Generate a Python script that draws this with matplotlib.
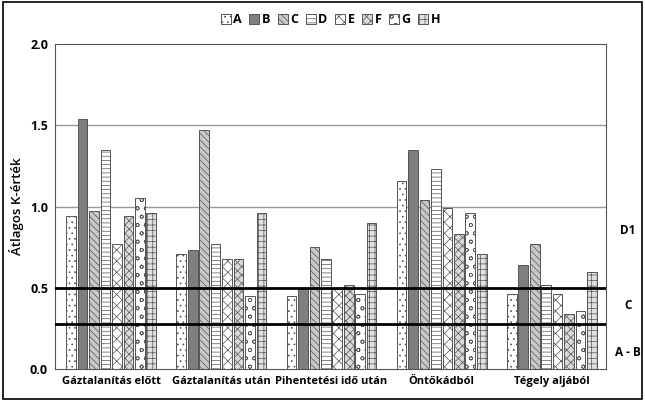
import numpy as np
import matplotlib.pyplot as plt
from matplotlib.patches import Rectangle

plt.rcParams['font.family'] = ['Open Sans', 'DejaVu Sans']
plt.rcParams['hatch.linewidth'] = 0.5
plt.rcParams['hatch.color'] = '#666666'

groups = ['Gáztalanítás előtt', 'Gáztalanítás után', 'Pihentetési idő után',
          'Öntőkádból', 'Tégely aljából']
series = ['A', 'B', 'C', 'D', 'E', 'F', 'G', 'H']
A = [0.94, 0.71, 0.45, 1.16, 0.46]
B = [1.54, 0.73, 0.50, 1.35, 0.64]
C = [0.97, 1.47, 0.75, 1.04, 0.77]
D = [1.35, 0.77, 0.68, 1.23, 0.52]
E = [0.77, 0.68, 0.49, 0.99, 0.46]
F = [0.94, 0.68, 0.52, 0.83, 0.34]
G = [1.05, 0.45, 0.46, 0.96, 0.36]
H = [0.96, 0.96, 0.90, 0.71, 0.60]
values = [A, B, C, D, E, F, G, H]

limits = [0.28, 0.5]
zone_labels = ['A - B', 'C', 'D1']
zone_pos = [0.10, 0.39, 0.85]

faces = ['white', '#7f7f7f', '#c8c8c8', 'white', 'white', '#d9d9d9', 'white', '#e0e0e0']
hatches = ['...', '', '\\\\\\\\\\', '----', 'xxx', 'xxxx', 'oo', '+++']

fig = plt.figure(figsize=(6.45, 4.01), dpi=100)
ax = fig.add_axes([0.0853, 0.0798, 0.854, 0.810])

x = np.arange(len(groups))
pitch = 0.104
w = 0.088
for i, s in enumerate(series):
    ax.bar(x + (i - 3.5) * pitch, values[i], w, color=faces[i], hatch=hatches[i],
           edgecolor='#555555', linewidth=0.7, label=s, zorder=2)

for yv in [1.0, 1.5]:
    ax.axhline(yv, color='#999999', lw=1.0, zorder=1)
for yv in limits:
    ax.axhline(yv, color='black', lw=2.0, zorder=3)

ax.set_ylim(0, 2.0)
ax.set_xlim(-0.51, 4.49)
ax.set_yticks([0, 0.5, 1.0, 1.5, 2.0])
ax.set_yticklabels(['0.0', '0.5', '1.0', '1.5', '2.0'], fontweight='bold', fontsize=9)
ax.set_xticks(x)
ax.set_xticklabels(groups, fontweight='bold', fontsize=8)
ax.tick_params(axis='both', length=0, pad=5)
ax.set_ylabel('Átlagos K-érték', fontsize=9.5, fontweight='semibold', labelpad=4)
for sp in ax.spines.values():
    sp.set_color('#555555')

for lab, yv in zip(zone_labels, zone_pos):
    ax.text(1.04, yv, lab, transform=ax.get_yaxis_transform(), fontsize=8.5,
            fontweight='bold', ha='center', va='center')

leg = ax.legend(ncol=8, loc='lower center', bbox_to_anchor=(0.5, 1.02), frameon=False,
                prop={'weight': 'bold', 'size': 9}, handlelength=0.8, handleheight=0.8,
                handletextpad=0.2, columnspacing=0.6)

fig.patches.append(Rectangle((0.004, 0.004), 0.992, 0.992, transform=fig.transFigure,
                             fill=False, edgecolor='black', lw=1.2))

fig.savefig('out.png', dpi=100)
